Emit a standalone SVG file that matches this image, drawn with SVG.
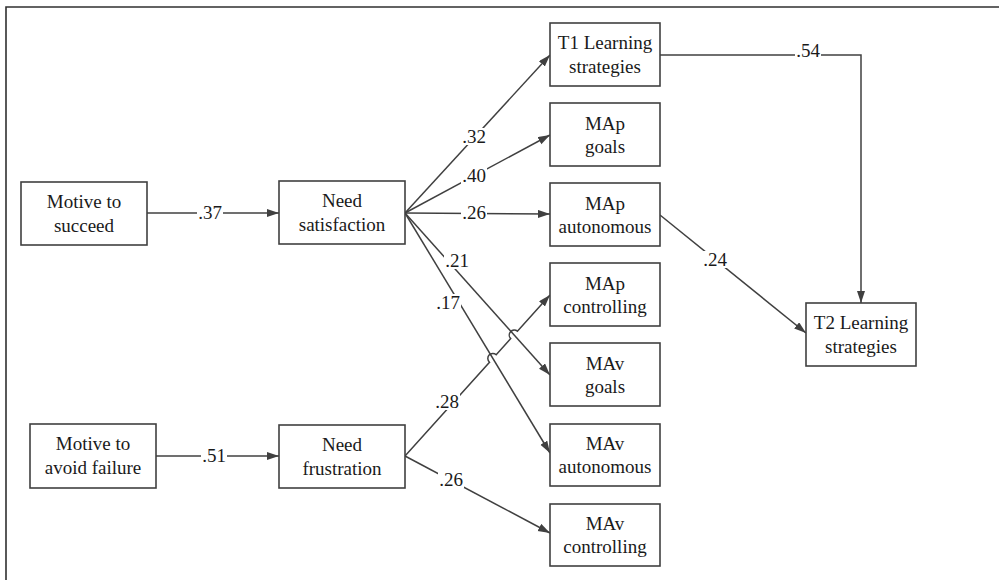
<svg xmlns="http://www.w3.org/2000/svg" width="999" height="580" viewBox="0 0 999 580">
<defs>
<marker id="arr" markerUnits="userSpaceOnUse" markerWidth="13" markerHeight="9" refX="12" refY="4" orient="auto">
<path d="M0,0 L12,4 L0,8 z" fill="#404040"/>
</marker>
<style>
.box{fill:#fff;stroke:#404040;stroke-width:1.6}
.t{font-family:"Liberation Serif","Times New Roman",serif;font-size:19px;fill:#1a1a1a;text-anchor:middle}
.ln{fill:none;stroke:#404040;stroke-width:1.5}
.bg{fill:#fff}
</style>
</defs>
<rect width="999" height="580" fill="#fff"/>
<path d="M6,580 V7 H999" fill="none" stroke="#303030" stroke-width="1.6"/>
<g id="connectors">
<path class="ln" d="M147,213 H279" marker-end="url(#arr)"/>
<path class="ln" d="M156,456 H279" marker-end="url(#arr)"/>
<path class="ln" d="M405,213 L550,55" marker-end="url(#arr)"/>
<path class="ln" d="M405,213 L550,135" marker-end="url(#arr)"/>
<path class="ln" d="M405,213 L550,214" marker-end="url(#arr)"/>
<path class="ln" d="M405,213 L550,375" marker-end="url(#arr)"/>
<path class="ln" d="M405,213 L550,453" marker-end="url(#arr)"/>
<path class="ln" d="M405,456 L489.5,362.2 A5,5 0 0 1 496.2,354.7 L510.7,338.6 A5,5 0 0 1 517.4,331.2 L550,295" marker-end="url(#arr)"/>
<path class="ln" d="M405,456 L550,533" marker-end="url(#arr)"/>
<path class="ln" d="M660,55 H861 V303" marker-end="url(#arr)"/>
<path class="ln" d="M660,215 L806,333" marker-end="url(#arr)"/>

<rect class="bg" x="197" y="205" width="26" height="16"/><text class="t" x="210" y="219">.37</text>
<rect class="bg" x="201" y="448" width="26" height="16"/><text class="t" x="214" y="462">.51</text>
<rect class="bg" x="461" y="128" width="26" height="17"/><text class="t" x="474" y="143">.32</text>
<rect class="bg" x="461" y="167" width="26" height="17"/><text class="t" x="474" y="182">.40</text>
<rect class="bg" x="461" y="205" width="26" height="16"/><text class="t" x="474" y="219">.26</text>
<rect class="bg" x="444" y="252" width="26" height="17"/><text class="t" x="457" y="267">.21</text>
<rect class="bg" x="435" y="294" width="26" height="17"/><text class="t" x="448" y="309">.17</text>
<rect class="bg" x="434" y="393" width="26" height="17"/><text class="t" x="447" y="408">.28</text>
<rect class="bg" x="438" y="471" width="26" height="17"/><text class="t" x="451" y="486">.26</text>
<rect class="bg" x="795" y="44" width="26" height="15"/><text class="t" x="808" y="57">.54</text>
<rect class="bg" x="702" y="251" width="26" height="17"/><text class="t" x="715" y="266">.24</text>
</g>

<g id="motive-succeed"><rect class="box" x="21" y="182" width="126" height="63"/><text class="t" x="84" y="208">Motive to</text><text class="t" x="84" y="232">succeed</text></g>
<g id="need-satisfaction"><rect class="box" x="279" y="181" width="126" height="63"/><text class="t" x="342" y="207">Need</text><text class="t" x="342" y="231">satisfaction</text></g>
<g id="motive-avoid"><rect class="box" x="30" y="424" width="126" height="64"/><text class="t" x="93" y="450">Motive to</text><text class="t" x="93" y="474">avoid failure</text></g>
<g id="need-frustration"><rect class="box" x="279" y="425" width="126" height="63"/><text class="t" x="342" y="451">Need</text><text class="t" x="342" y="475">frustration</text></g>
<g id="t1"><rect class="box" x="550" y="23" width="110" height="63"/><text class="t" x="605" y="49">T1 Learning</text><text class="t" x="605" y="73">strategies</text></g>
<g id="map-goals"><rect class="box" x="550" y="103" width="110" height="63"/><text class="t" x="605" y="130">MAp</text><text class="t" x="605" y="153">goals</text></g>
<g id="map-autonomous"><rect class="box" x="550" y="183" width="110" height="63"/><text class="t" x="605" y="210">MAp</text><text class="t" x="605" y="233">autonomous</text></g>
<g id="map-controlling"><rect class="box" x="550" y="263" width="110" height="63"/><text class="t" x="605" y="290">MAp</text><text class="t" x="605" y="313">controlling</text></g>
<g id="mav-goals"><rect class="box" x="550" y="343" width="110" height="63"/><text class="t" x="605" y="370">MAv</text><text class="t" x="605" y="393">goals</text></g>
<g id="mav-autonomous"><rect class="box" x="550" y="424" width="110" height="62"/><text class="t" x="605" y="450">MAv</text><text class="t" x="605" y="473">autonomous</text></g>
<g id="mav-controlling"><rect class="box" x="550" y="504" width="110" height="62"/><text class="t" x="605" y="530">MAv</text><text class="t" x="605" y="553">controlling</text></g>
<g id="t2"><rect class="box" x="806" y="303" width="110" height="63"/><text class="t" x="861" y="329">T2 Learning</text><text class="t" x="861" y="353">strategies</text></g>
</svg>
